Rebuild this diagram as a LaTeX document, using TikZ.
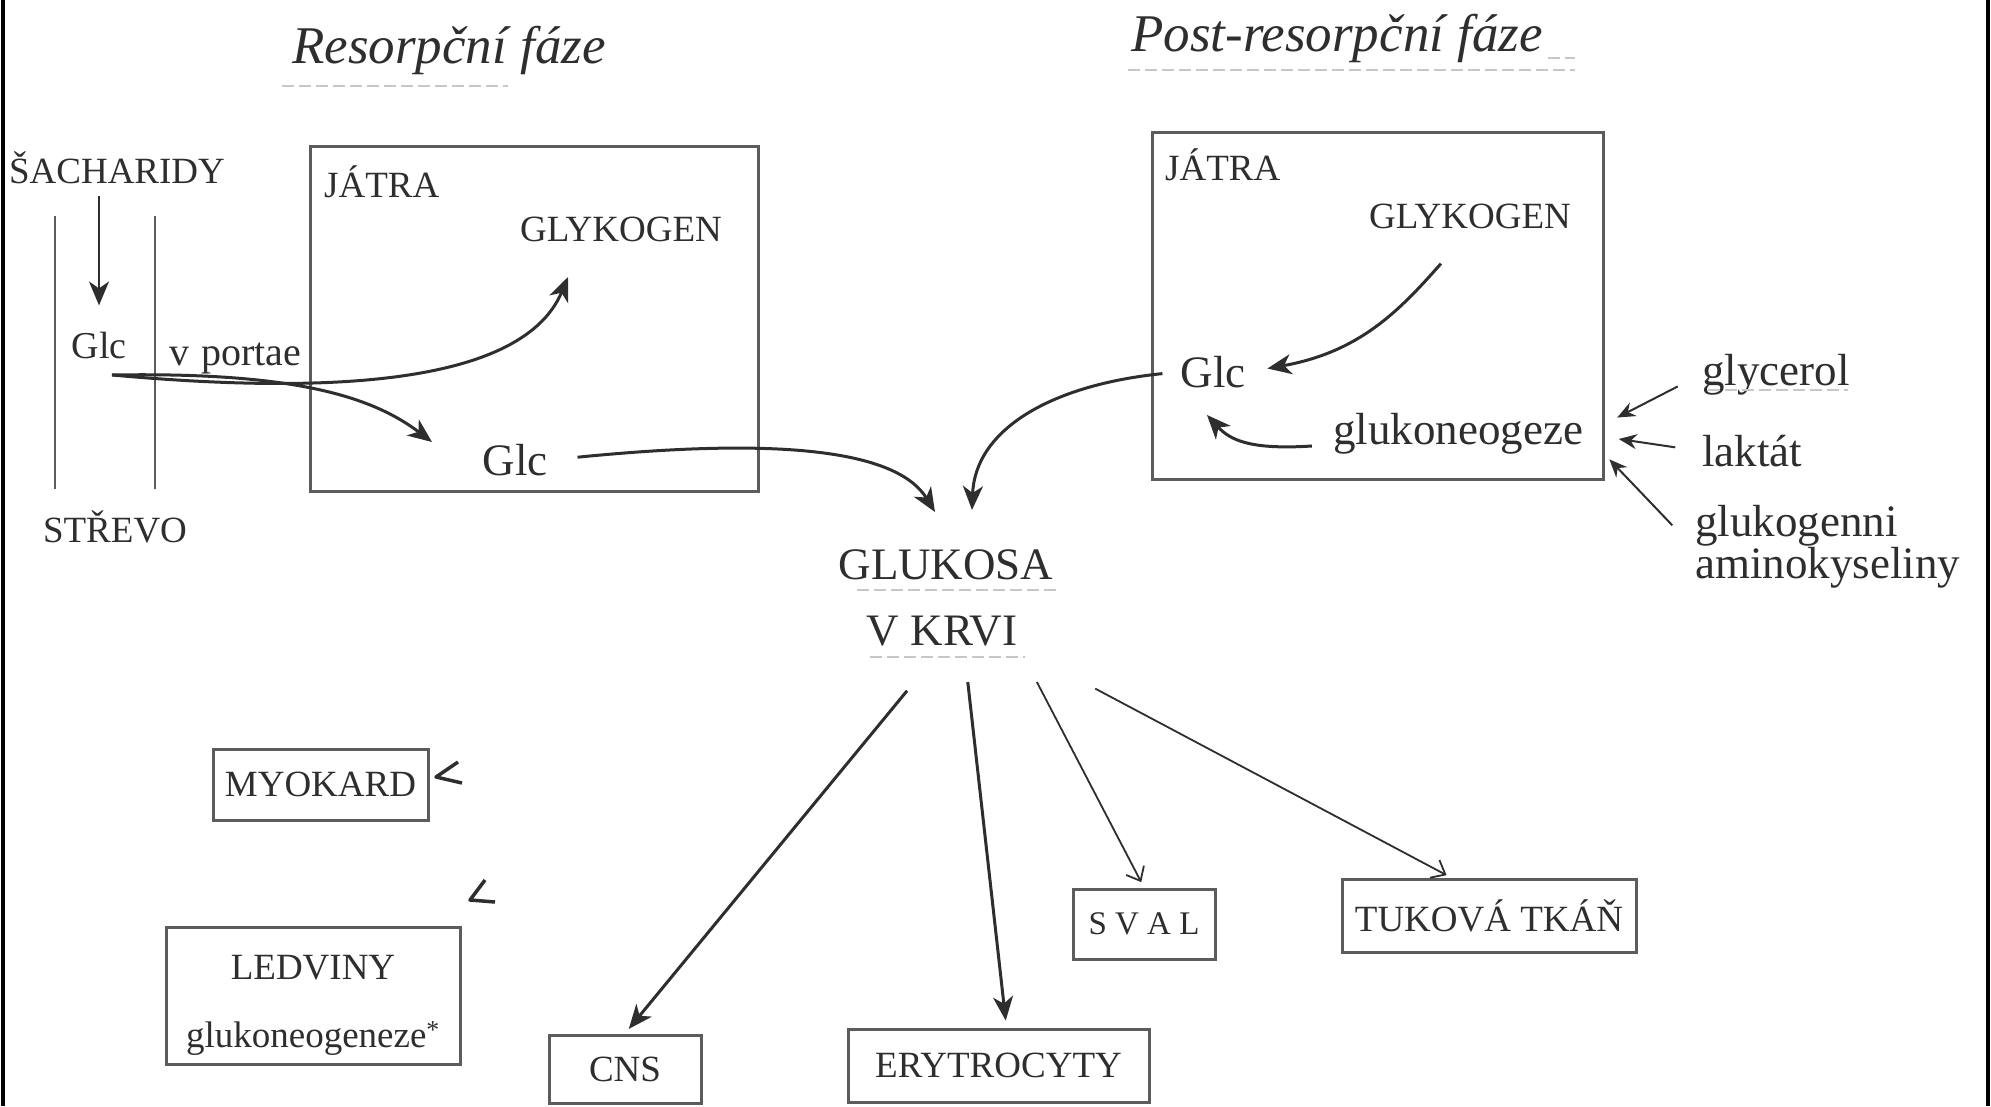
\documentclass[tikz,border=0pt]{standalone}
\usepackage{fontspec}
\setmainfont{Liberation Serif}
\usetikzlibrary{arrows.meta}
\definecolor{ink}{HTML}{2E2E2E}
\definecolor{frm}{HTML}{5C5C5C}

\begin{document}
\begin{tikzpicture}[x=1pt,y=-1pt,
  lab/.style={text=ink,inner sep=2pt,font=\fontsize{37}{44}\selectfont},
  big/.style={lab,font=\fontsize{45}{50}\selectfont},
  ttl/.style={text=ink,font=\fontsize{53}{58}\selectfont\itshape},
  box/.style={lab,draw=frm,line width=3pt},
  arr/.style={draw=ink,line width=3pt,-{Stealth[length=24pt,width=20pt,inset=7pt]}},
  small/.style={draw=ink,line width=2pt,-{Stealth[length=18pt,width=15pt,inset=6pt]}},
  slim/.style={draw=ink,line width=1.8pt,-{Straight Barb[length=12pt,width=20pt,line width=1.8pt]}},
  faint/.style={draw=black!22,line width=2pt,dash pattern=on 12pt off 5pt}]
\useasboundingbox (0,0) rectangle (1991,1106);
\draw[line width=4pt] (3,0) -- (3,1106) (1988,0) -- (1988,1106);

\node[ttl] (r) at (449,50) {Resorpční fáze};
\node[ttl] (p) at (1337,38) {Post-resorpční fáze};
\draw[faint] (282,86) -- (508,86);
\draw[faint] (1128,70) -- (1575,70) (1548,58) -- (1575,58);

\node[lab] (s) at (117,168) {ŠACHARIDY};
\node[lab,font=\fontsize{38}{44}\selectfont] (g) at (99,345) {Glc};
\node[lab,font=\fontsize{40}{44}\selectfont] (v) at (235,358) {v\hspace{12pt}portae};
\node[lab] (t) at (115,527) {STŘEVO};
\draw[frm,line width=2.5pt] (55,216) -- (55,489) (155,216) -- (155,489);

\node[box,minimum width=448pt,minimum height=345pt] (j1) at (534,318.5) {};
\node[lab,anchor=west] (ja) at (322,182) {JÁTRA};
\node[lab] (k1) at (621,229) {GLYKOGEN};
\node[big] (c1) at (515,460) {Glc};

\node[box,minimum width=451pt,minimum height=347pt] (j2) at (1377.5,305.5) {};
\node[lab,anchor=west] (jb) at (1163,165) {JÁTRA};
\node[lab] (k2) at (1470,216) {GLYKOGEN};
\node[big] (c2) at (1213,372) {Glc};
\node[big] (n) at (1458,434) {glukoneogeze};
\node[big,anchor=west] (y) at (1700,375) {glycerol};
\node[big,anchor=west] (l) at (1700,451) {laktát};
\node[big,anchor=west,align=left,font=\fontsize{45}{42}\selectfont] (m) at (1693,547) {glukogenni\\aminokyseliny};
\draw[faint] (1708,390) -- (1848,390);

\node[big] (gk) at (946,565) {GLUKOSA};
\node[big] (kr) at (942,631) {V KRVI};
\draw[faint] (857,590) -- (1058,590) (870,657) -- (1025,657);

\node[box,minimum width=215pt,minimum height=71pt] (my) at (320.5,784.5) {MYOKARD};
\node[box,align=center,minimum width=294pt,minimum height=137pt] (ld) at (313,995.5) {\rule{0pt}{44pt}LEDVINY\\[24pt]glukoneogeneze\textsuperscript{*}};
\node[box,minimum width=152pt,minimum height=68pt] (cn) at (625,1069) {CNS};
\node[box,minimum width=301pt,minimum height=73pt] (er) at (998.5,1065.5) {ERYTROCYTY};
\node[box,minimum width=142pt,minimum height=70pt,font=\fontsize{33}{40}\selectfont] (sv) at (1144,924) {S V A L};
\node[box,minimum width=294pt,minimum height=73pt] (tk) at (1489,915.5) {TUKOVÁ TKÁŇ};

\coordinate (b) at (112,375);
\coordinate (e1) at (568,277);
\coordinate (e2) at (432,442);
\coordinate (e3) at (935,512);
\coordinate (e4) at (972,510);
\coordinate (e6) at (1207,415);

\draw[arr,line width=2pt,shorten <=10pt,shorten >=24pt] (s.south -| g.north) -- (g.north);
\draw[arr] (b) .. controls (300,392) and (520,392) .. (e1);
\draw[arr] (b) .. controls (290,372) and (370,395) .. (e2);
\draw[arr,shorten <=28pt] (c1.east) .. controls (800,435) and (900,455) .. (e3);
\draw[arr,shorten <=16pt] (c2.west) .. controls (1050,385) and (975,430) .. (e4);
\draw[arr,shorten <=44pt,shorten >=20pt] (k2.south) .. controls (1400,310) and (1360,352) .. (c2.east);
\draw[arr,shorten <=19pt] (n.base west) .. controls (1250,450) and (1230,440) .. (e6);
\draw[small,shorten <=25pt,shorten >=36pt] (y.west) -- (n.east);
\draw[small,shorten <=25pt,shorten >=34pt] (l.west) -- (n.east);
\draw[small,shorten <=30pt,shorten >=35pt] (m.west) -- (n.east);

\draw[arr,shorten <=55pt,shorten >=6pt] (kr.south) -- (cn.north);
\draw[arr,shorten <=34pt,shorten >=7pt] ([xshift=22pt]kr.south) -- ([xshift=8pt]er.north);
\draw[slim,shorten <=38pt,shorten >=6pt] (kr.south east) -- (sv.north);
\draw[slim,shorten <=86pt,shorten >=5pt] (kr.south east) -- ([xshift=-38pt]tk.north);

\draw[ink,line width=3.5pt,line join=round] (458,762) -- (436,777) -- (462,783);
\draw[ink,line width=3.5pt,line join=round] (485,880) -- (470,900) -- (495,902);
\end{tikzpicture}
\end{document}
